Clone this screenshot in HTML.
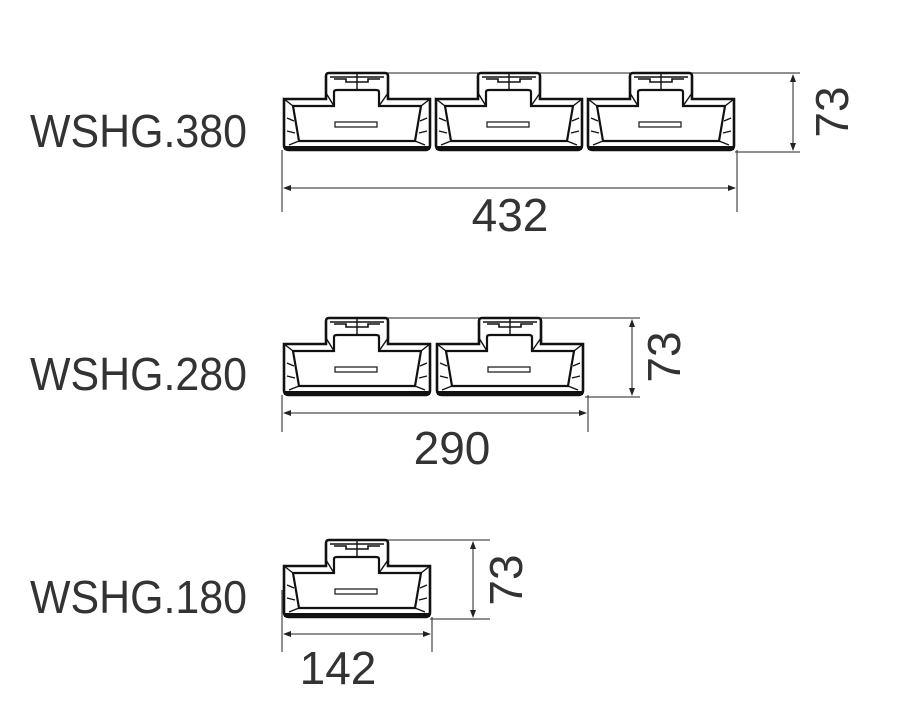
<!DOCTYPE html>
<html><head><style>
html,body{margin:0;padding:0;background:#fff;}
svg{display:block;}
text{font-family:"Liberation Sans",sans-serif;fill:#333;}
</style></head><body>
<svg width="902" height="705" viewBox="0 0 902 705">
<defs>
<g id="m">
<path d="M0,26 H42 V3 Q42,0 45,0 H101 Q104,0 104,3 V26 H146 V72 Q146,77 141,77 H5 Q0,77 0,72 Z" fill="#fff" stroke="#111" stroke-width="2.6"/>
<path d="M9,33 H50 V19 Q50,17 53,17 H92 Q95,17 95,19 V33 H137 L131,68 H15 Z" fill="none" stroke="#111" stroke-width="2.2"/>
<path d="M42,20 L50,33 M104,20 L95,33 M0,26 L9,33 M146,26 L137,33 M5,72 L15,68 M141,72 L131,68 M3,45 L10,48 M3,58 L11,60 M143,45 L136,48 M143,58 L135,60 M73,1 V17 M46,4 H100" fill="none" stroke="#111" stroke-width="1.4"/>
<path d="M50,6 H62 V9 H84 V6 H96" fill="none" stroke="#111" stroke-width="1.6"/>
<rect x="51" y="49" width="42" height="5" fill="none" stroke="#222" stroke-width="1.3"/>
<rect x="0" y="73" width="146" height="4" fill="#111"/>
</g>
</defs>
<g stroke="#222" stroke-width="1" fill="none">
<!-- row1 -->
<line x1="330" y1="73" x2="800" y2="73"/>
<line x1="735" y1="152" x2="800" y2="152"/>
<line x1="793" y1="76" x2="793" y2="149"/>
<line x1="282" y1="150" x2="282" y2="212"/>
<line x1="737" y1="150" x2="737" y2="212"/>
<line x1="285" y1="188" x2="734" y2="188"/>
<!-- row2 -->
<line x1="330" y1="318" x2="640" y2="318"/>
<line x1="585" y1="397" x2="640" y2="397"/>
<line x1="632" y1="321" x2="632" y2="394"/>
<line x1="282" y1="395" x2="282" y2="432"/>
<line x1="588" y1="395" x2="588" y2="432"/>
<line x1="285" y1="413" x2="585" y2="413"/>
<!-- row3 -->
<line x1="370" y1="540" x2="490" y2="540"/>
<line x1="430" y1="619" x2="490" y2="619"/>
<line x1="473" y1="543" x2="473" y2="616"/>
<line x1="282" y1="590" x2="282" y2="652"/>
<line x1="432" y1="617" x2="432" y2="652"/>
<line x1="285" y1="634" x2="429" y2="634"/>
</g>
<g fill="#222">
<path d="M793,74 l-3,8 h6z M793,151 l-3,-8 h6z M283,188 l8,-3 v6z M736,188 l-8,-3 v6z"/>
<path d="M632,319 l-3,8 h6z M632,396 l-3,-8 h6z M283,413 l8,-3 v6z M587,413 l-8,-3 v6z"/>
<path d="M473,541 l-3,8 h6z M473,618 l-3,-8 h6z M283,634 l8,-3 v6z M431,634 l-8,-3 v6z"/>
</g>
<use href="#m" x="284" y="73"/>
<use href="#m" x="436" y="73"/>
<use href="#m" x="588" y="73"/>
<use href="#m" x="284" y="318"/>
<use href="#m" x="437" y="318"/>
<use href="#m" x="284" y="540"/>
<g font-size="46">
<text x="30" y="147" textLength="217" lengthAdjust="spacingAndGlyphs">WSHG.380</text>
<text x="30" y="390" textLength="217" lengthAdjust="spacingAndGlyphs">WSHG.280</text>
<text x="30" y="613" textLength="217" lengthAdjust="spacingAndGlyphs">WSHG.180</text>
<text x="510" y="231" text-anchor="middle">432</text>
<text x="452" y="464" text-anchor="middle">290</text>
<text x="338" y="684" text-anchor="middle">142</text>
<text transform="translate(848,112) rotate(-90)" text-anchor="middle">73</text>
<text transform="translate(680,357) rotate(-90)" text-anchor="middle">73</text>
<text transform="translate(522,580) rotate(-90)" text-anchor="middle">73</text>
</g>
</svg>
</body></html>
